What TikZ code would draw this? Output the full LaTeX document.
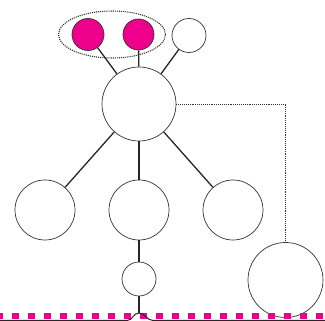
\documentclass[tikz,border=0pt]{standalone}
\usepackage{tikz}
\usetikzlibrary{shapes.geometric}
\definecolor{magentaink}{HTML}{EC008C}
\tikzset{
  ball/.style={circle, draw=black!80, line width=0.7pt, inner sep=0pt},
  pinkball/.style={ball, fill=magentaink},
  stick/.style={line width=1.3pt, draw=black!85},
}

\begin{document}
\begin{tikzpicture}[x=1pt,y=-1pt]
\useasboundingbox (0,0) rectangle (325,321);
% top row
\node[pinkball, minimum size=32pt] (p1) at (88,34.5) {};
\node[pinkball, minimum size=31pt] (p2) at (138.5,34.5) {};
\node[ball, minimum size=34pt] (w1) at (189,35.5) {};
\node[ellipse, draw=black!80, densely dotted, line width=1.1pt, inner sep=0pt,
  minimum width=107pt, minimum height=47pt] (grp) at (112,34.5) {};
% hub and children
\node[ball, minimum size=74pt] (hub) at (139,104) {};
\node[ball, minimum size=60pt] (m1) at (45,210) {};
\node[ball, minimum size=60pt] (m2) at (139,210) {};
\node[ball, minimum size=60pt] (m3) at (233,210) {};
\node[ball, minimum size=34pt] (s1) at (139,279) {};
\node[ball, minimum size=75pt] (r1) at (285.5,280) {};
\coordinate (base) at (139,313);
\path[stick]
(p1) edge (hub)
(p2) edge (hub)
(w1) edge (hub)
(hub) edge (m1) edge (m2) edge (m3)
(m2) edge (s1)
(s1) edge (base)
;
\draw[densely dotted, line width=0.9pt, black!80] (hub.east) -| (r1.north);
% ground
\draw[magentaink, line width=6pt, dash pattern=on 7pt off 9pt, dash phase=4pt] (0,316) -- (325,316);
\draw[line width=1pt, black!85] (0,320.5) -- (127,320.5)
  .. controls (133,320.5) and (133,313) .. (base)
  .. controls (145,313) and (147,320.5) .. (153,320.5) -- (325,320.5);
\end{tikzpicture}
\end{document}
